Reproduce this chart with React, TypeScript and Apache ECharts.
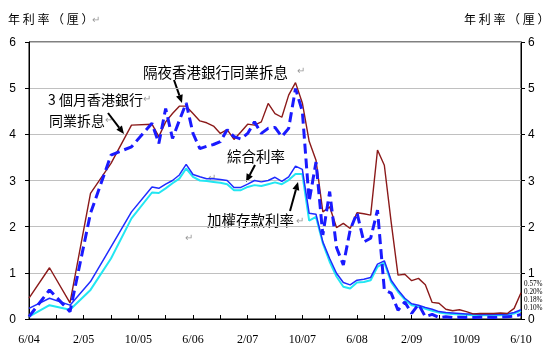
import React, { useEffect, useRef } from "react";
import * as echarts from "echarts";

// month index since 6/04
const MONTHS = [0, 3, 6, 9, 12, 15,
  18, 19, 20, 21, 22, 23, 24, 25, 26, 27, 28, 29, 30, 31, 32, 33, 34, 35, 36, 37, 38, 39,
  40, 41, 42, 43, 44, 45, 46, 47, 48, 49, 50, 51, 52, 53, 54, 55, 56, 57, 58, 59,
  60, 61, 62, 63, 64, 65, 66, 67, 68, 69, 70, 71, 72];

const HIBOR_3M = [0.45, 1.11, 0.35, 2.72, 3.37, 4.2,
  4.22, 3.95, 4.27, 4.45, 4.61, 4.61, 4.45, 4.29, 4.25, 4.18, 4.02, 4.1, 3.89, 4.05, 4.22, 4.2, 4.27, 4.67, 4.45, 4.37, 4.85, 5.12,
  4.68, 3.85, 3.44, 2.32, 2.43, 1.98, 2.07, 1.96, 2.3, 2.28, 2.25, 3.66, 3.33, 2.1, 0.95, 0.97, 0.83, 0.88, 0.74, 0.36,
  0.34, 0.21, 0.18, 0.2, 0.16, 0.11, 0.12, 0.12, 0.12, 0.13, 0.12, 0.23, 0.57];

const HIBOR_ON = [0.05, 0.63, 0.16, 2.29, 3.55, 3.73,
  4.24, 3.8, 4.56, 3.91, 4.3, 4.68, 4.02, 3.69, 3.74, 3.78, 3.84, 4.1, 3.95, 3.9, 4.02, 4.27, 4.02, 4.13, 4.15, 3.95, 4.13, 4.99,
  4.5, 2.55, 3.4, 1.82, 2.76, 1.55, 1.17, 1.93, 2.3, 1.67, 1.75, 2.36, 0.63, 0.56, 0.19, 0.37, 0.12, 0.32, 0.05, 0.1,
  0.03, 0.05, 0.03, 0.04, 0.03, 0.03, 0.04, 0.04, 0.03, 0.04, 0.05, 0.06, 0.1];

const COMPOSITE = [0.23, 0.45, 0.3, 0.81, 1.56, 2.32,
  2.86, 2.83, 2.92, 3.0, 3.12, 3.35, 3.13, 3.08, 3.04, 3.04, 3.02, 3.0, 2.85, 2.85, 2.92, 3.0, 2.97, 3.0, 3.07, 2.98, 3.08, 3.31,
  3.24, 2.29, 2.27, 1.67, 1.31, 0.99, 0.79, 0.74, 0.84, 0.86, 0.9, 1.19, 1.26, 0.84, 0.63, 0.45, 0.33, 0.3, 0.25, 0.21,
  0.16, 0.14, 0.13, 0.12, 0.11, 0.11, 0.1, 0.1, 0.1, 0.1, 0.11, 0.14, 0.2];

const DEPOSIT = [0.05, 0.3, 0.2, 0.63, 1.31, 2.18,
  2.74, 2.73, 2.83, 2.94, 3.04, 3.26, 3.08, 3.0, 2.99, 2.97, 2.95, 2.92, 2.79, 2.79, 2.86, 2.9, 2.88, 2.92, 2.96, 2.92, 3.01, 3.14,
  3.14, 2.13, 2.21, 1.64, 1.24, 0.92, 0.7, 0.66, 0.79, 0.8, 0.84, 1.13, 1.22, 0.8, 0.59, 0.42, 0.3, 0.27, 0.22, 0.18,
  0.14, 0.12, 0.11, 0.1, 0.09, 0.08, 0.08, 0.08, 0.08, 0.08, 0.09, 0.12, 0.18];

const X_LABELS = ["6/04", "2/05", "10/05", "6/06", "2/07", "10/07", "6/08", "2/09", "10/09", "6/10"];
const Y_TITLE = "年 利 率 （ 厘 ）";
const LATEST = [0.57, 0.2, 0.18, 0.1];

const CJK = "'Noto Sans CJK TC', 'Noto Sans CJK SC', sans-serif";
const MARK = "#9a9a9a";

function pairs(vals: number[]) {
  return MONTHS.map((m, i) => [m, vals[i]]);
}

function arrow(x1: number, y1: number, x2: number, y2: number) {
  const dx = x2 - x1, dy = y2 - y1;
  const len = Math.hypot(dx, dy);
  const ux = dx / len, uy = dy / len;
  const head = 8, w = 3.5;
  const bx = x2 - ux * head, by = y2 - uy * head;
  return [
    { type: "line", shape: { x1, y1, x2: bx, y2: by }, style: { stroke: "#000", lineWidth: 2 } },
    {
      type: "polygon",
      shape: { points: [[x2, y2], [bx - uy * w, by + ux * w], [bx + uy * w, by - ux * w]] },
      style: { fill: "#000" },
    },
  ];
}

function txt(x: number, y: number, text: string, size = 14, fill = "#000", family = CJK, align = "left") {
  return {
    type: "text",
    x,
    y,
    style: { text, fontSize: size, fontFamily: family, fill, align, verticalAlign: "middle" },
  };
}

function markedText(x: number, y: number, text: string) {
  return {
    type: "text",
    x,
    y,
    style: {
      text: `{a|${text}}{m|↵}`,
      fontSize: 14,
      fontFamily: CJK,
      fill: "#000",
      align: "left",
      verticalAlign: "middle",
      rich: {
        a: { fontSize: 14, fontFamily: CJK, fill: "#000" },
        m: { fontSize: 10, fontFamily: CJK, fill: MARK, verticalAlign: "top" },
      },
    },
  };
}

export default function App() {
  const ref = useRef<HTMLDivElement>(null);
  useEffect(() => {
    if (!ref.current) return;
    const chart = echarts.init(ref.current, undefined, { renderer: "svg" });
    const graphic: any[] = [
      txt(8, 18, Y_TITLE, 12),
      txt(92, 18, "↵", 10, MARK),
      txt(464, 18, Y_TITLE, 12),
      txt(143, 71, "隔夜香港銀行同業拆息", 14.5),
      txt(297, 69, "↵", 10, MARK),
      markedText(48, 99, "3 個月香港銀行"),
      markedText(49, 120, "同業拆息"),
      txt(227, 155, "綜合利率", 14.5),
      txt(207, 219, "加權存款利率", 14.5),
      txt(296, 219, "↵", 10, MARK),
      txt(208, 176, "↵", 10, MARK),
      txt(185, 236, "↵", 10, MARK),
      ...arrow(174, 80, 182, 103),
      ...arrow(108, 113, 124, 134),
      ...arrow(255, 165, 246, 182),
      ...arrow(290, 211, 298, 182),
      ...LATEST.map((v, i) =>
        txt(524, 284 + i * 8, v.toFixed(2) + "%", 7.2, "#000", "'Liberation Serif', serif")
      ),
    ];
    const yAxisBase = {
      type: "value",
      min: 0,
      max: 6,
      interval: 1,
      axisLine: { show: true, lineStyle: { color: "#000", width: 1 } },
      axisTick: { show: true, length: 4, lineStyle: { color: "#000" } },
    };
    chart.setOption({
      animation: false,
      grid: { left: 29, right: 33, top: 42, bottom: 35, show: true, borderColor: "#000", borderWidth: 1 },
      xAxis: {
        type: "value",
        min: 0,
        max: 72,
        interval: 4,
        axisLine: { show: true, lineStyle: { color: "#000", width: 1 } },
        axisTick: { show: true, inside: true, length: 4, lineStyle: { color: "#000" } },
        splitLine: { show: false },
        axisLabel: {
          margin: 14,
          color: "#000",
          fontSize: 12,
          fontFamily: "'Liberation Serif', serif",
          formatter: (v: number) => (v % 8 === 0 ? X_LABELS[v / 8] : ""),
          showMinLabel: true,
          showMaxLabel: true,
        },
      },
      yAxis: [
        {
          ...yAxisBase,
          position: "left",
          splitLine: { show: true, lineStyle: { color: "#c0c0c0", width: 1 } },
          axisLabel: { margin: 13, color: "#000", fontSize: 12, fontFamily: "'Liberation Sans', sans-serif" },
        },
        {
          ...yAxisBase,
          position: "right",
          splitLine: { show: false },
          axisLabel: { margin: 7, color: "#000", fontSize: 12, fontFamily: "'Liberation Sans', sans-serif" },
        },
      ],
      series: [
        {
          name: "加權存款利率",
          type: "line",
          data: pairs(DEPOSIT),
          symbol: "none",
          lineStyle: { color: "#22e6f2", width: 2 },
        },
        {
          name: "綜合利率",
          type: "line",
          data: pairs(COMPOSITE),
          symbol: "none",
          lineStyle: { color: "#1f2cff", width: 1.5 },
        },
        {
          name: "3個月香港銀行同業拆息",
          type: "line",
          data: pairs(HIBOR_3M),
          symbol: "none",
          lineStyle: { color: "#8b1a1a", width: 1.4 },
        },
        {
          name: "隔夜香港銀行同業拆息",
          type: "line",
          data: pairs(HIBOR_ON),
          symbol: "none",
          lineStyle: { color: "#1a1aff", width: 3, type: [10, 5] },
        },
      ],
      graphic,
    });
    return () => chart.dispose();
  }, []);
  return <div ref={ref} style={{ width: 554, height: 354, position: "fixed", left: 0, top: 0 }} />;
}
